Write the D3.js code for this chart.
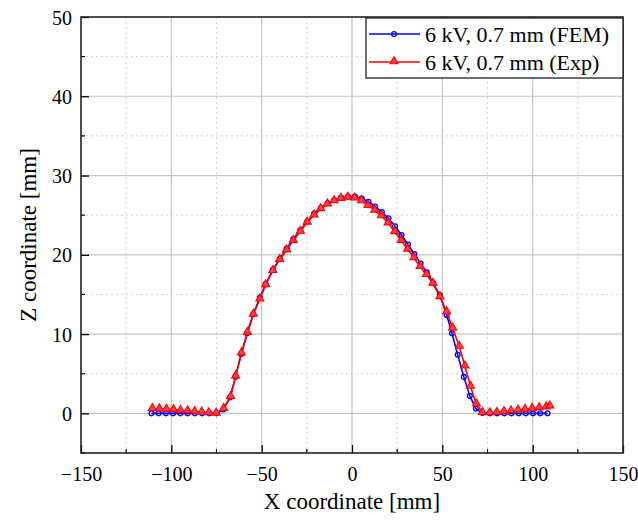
<!DOCTYPE html>
<html>
<head>
<meta charset="utf-8">
<script src="https://cdn.jsdelivr.net/npm/d3@7"></script>
<style>
  body { margin: 0; background: #fff; }
  svg text { font-family: "Liberation Serif", "DejaVu Serif", serif !important; fill: #000; }
</style>
</head>
<body>
<svg id="chart" width="638" height="523" font-family="Liberation Serif"></svg>
<script>
// FEM profile (blue circles)
var femX = [-111, -107, -103, -99, -95, -91, -87, -83, -79, -75,
    -71.2, -67.5, -64.5, -61.3, -58, -54.7, -51, -47.8, -43.8, -40,
    -36.2, -32.5, -28.6, -24.8, -20.9, -17.2, -13.5, -9.8, -6, -2.2,
    1.6, 5.4, 9.1, 12.8, 16.5, 20.2, 23.8, 27.4, 31, 34.5,
    38, 41.4, 45, 48.7, 52.4, 55.3, 58.5, 61.9, 65.2, 68.6,
    72.2, 76.3, 80.3, 84.3, 88.3, 92.3, 96.2, 100.2, 104.2, 108.2];
var femZ = [0, 0, 0, 0, 0, 0, 0, 0, 0, 0,
    0.5, 2.0, 4.6, 7.5, 10.1, 12.5, 14.6, 16.3, 18.1, 19.5,
    20.8, 22.0, 23.1, 24.2, 25.2, 25.9, 26.5, 26.9, 27.2, 27.35,
    27.35, 27.1, 26.7, 26.1, 25.4, 24.6, 23.6, 22.5, 21.3, 20.1,
    18.9, 17.8, 16.4, 14.9, 12.4, 10.1, 7.4, 4.6, 2.2, 0.6,
    0.05, 0, 0, 0, 0, 0, 0, 0, 0, 0];

// measured profile (red triangles)
var expX = [-110.5, -106.6, -102.7, -98.8, -94.9, -91, -87.1, -83.2, -79.3, -75.2,
    -71, -67.2, -64.4, -61.2, -57.9, -54.6, -51, -47.8, -43.8, -40,
    -36.2, -32.5, -28.6, -24.8, -21, -17.3, -13.6, -9.9, -6.1, -2.3,
    1.5, 5.2, 8.9, 12.6, 16.3, 20, 23.6, 27.2, 30.8, 34.3,
    37.7, 41.2, 44.8, 48.7, 52.4, 55.7, 59.4, 62.5, 65.6, 68.9,
    72.2, 76.3, 80.2, 84.1, 88, 91.9, 95.8, 99.7, 103.6, 107.5, 109.5];
var expZ = [0.6, 0.55, 0.5, 0.45, 0.35, 0.3, 0.2, 0.15, 0.05, 0,
    0.6, 2.1, 4.7, 7.6, 10.2, 12.5, 14.4, 16.2, 18.0, 19.4,
    20.6, 21.8, 22.95, 24.1, 25.0, 25.8, 26.4, 26.8, 27.1, 27.25,
    27.15, 26.8, 26.2, 25.6, 24.9, 24.0, 22.9, 21.8, 20.7, 19.6,
    18.5, 17.5, 16.4, 14.7, 12.8, 10.75, 8.45, 5.95, 3.4, 1.16,
    0.1, 0.05, 0.1, 0.2, 0.3, 0.4, 0.5, 0.6, 0.7, 0.8, 0.9];

var seriesNames = ["6 kV, 0.7 mm (FEM)", "6 kV, 0.7 mm (Exp)"];
var xTicks = [-150, -100, -50, 0, 50, 100, 150];
var xMinor = [-125, -75, -25, 25, 75, 125];
var yTicks = [0, 10, 20, 30, 40, 50];
var yMinor = [-5, 5, 15, 25, 35, 45];

var serif = "'Liberation Serif', 'Times New Roman', serif";
var svg = d3.select("#chart");
var plotL = 81, plotR = 623, plotT = 17, plotB = 453;

var xScale = d3.scaleLinear().domain([-150, 150]).range([plotL, plotR]);
var yScale = d3.scaleLinear().domain([-5, 50]).range([plotB, plotT]);

// grid
var grid = svg.append("g");
grid.selectAll(".vmaj").data(xTicks.slice(1, -1)).enter().append("line")
    .attr("x1", d => xScale(d)).attr("x2", d => xScale(d))
    .attr("y1", plotT).attr("y2", plotB)
    .attr("stroke", "#c4c4c4").attr("stroke-width", 1.2);
grid.selectAll(".vmin").data(xMinor).enter().append("line")
    .attr("x1", d => xScale(d)).attr("x2", d => xScale(d))
    .attr("y1", plotT).attr("y2", plotB)
    .attr("stroke", "#d4d4d4").attr("stroke-width", 1).attr("stroke-dasharray", "2,3");
grid.selectAll(".hmaj").data(yTicks.slice(0, -1)).enter().append("line")
    .attr("x1", plotL).attr("x2", plotR)
    .attr("y1", d => yScale(d)).attr("y2", d => yScale(d))
    .attr("stroke", "#c4c4c4").attr("stroke-width", 1.2);
grid.selectAll(".hmin").data(yMinor.slice(1)).enter().append("line")
    .attr("x1", plotL).attr("x2", plotR)
    .attr("y1", d => yScale(d)).attr("y2", d => yScale(d))
    .attr("stroke", "#d4d4d4").attr("stroke-width", 1).attr("stroke-dasharray", "2,3");

// axes, ticks pointing inward
var xAxis = d3.axisBottom(xScale).tickValues(xTicks).tickSizeInner(-8).tickSizeOuter(0)
    .tickFormat(d => d < 0 ? "\u2212" + Math.abs(d) : d);
var yAxis = d3.axisLeft(yScale).tickValues(yTicks).tickSizeInner(-8).tickSizeOuter(0);

var gx = svg.append("g").attr("transform", "translate(0," + plotB + ")").call(xAxis);
var gy = svg.append("g").attr("transform", "translate(" + plotL + ",0)").call(yAxis);
[gx, gy].forEach(function(g) {
    g.attr("font-family", serif).attr("font-size", 20);
    g.select(".domain").remove();
    g.selectAll("line").attr("stroke", "#000").attr("stroke-width", 1.3);
    g.selectAll("text").attr("font-family", serif).attr("font-size", 20).attr("fill", "#000");
});
gx.selectAll("text").attr("y", 9).attr("dy", "0.95em");
gy.selectAll("text").attr("x", -9).attr("dy", "0.35em");

svg.append("g").selectAll("line").data(xMinor).enter().append("line")
    .attr("x1", d => xScale(d)).attr("x2", d => xScale(d))
    .attr("y1", plotB).attr("y2", plotB - 4)
    .attr("stroke", "#000").attr("stroke-width", 1.2);
svg.append("g").selectAll("line").data(yMinor).enter().append("line")
    .attr("x1", plotL).attr("x2", plotL + 4)
    .attr("y1", d => yScale(d)).attr("y2", d => yScale(d))
    .attr("stroke", "#000").attr("stroke-width", 1.2);

// frame
svg.append("rect")
    .attr("x", plotL).attr("y", plotT)
    .attr("width", plotR - plotL).attr("height", plotB - plotT)
    .attr("fill", "none").attr("stroke", "#222").attr("stroke-width", 1.6);

// titles
svg.append("text")
    .attr("x", (plotL + plotR) / 2).attr("y", 509)
    .attr("text-anchor", "middle").attr("font-size", 23).attr("font-family", serif)
    .text("X coordinate [mm]");
svg.append("text")
    .attr("transform", "translate(36," + (plotT + plotB) / 2 + ") rotate(-90)")
    .attr("text-anchor", "middle").attr("font-size", 23).attr("font-family", serif)
    .text("Z coordinate [mm]");

// series
var line = d3.line()
    .x(function(d) { return xScale(d.x); })
    .y(function(d) { return yScale(d.y); });

var femData = femX.map((x, i) => ({ x: x, y: femZ[i] }));
var expData = expX.map((x, i) => ({ x: x, y: expZ[i] }));
var tri = d3.symbol().type(d3.symbolTriangle).size(28);

var gFem = svg.append("g");
gFem.append("path").datum(femData)
    .attr("fill", "none").attr("stroke", "#0000ff").attr("stroke-width", 1.6).attr("d", line);
gFem.selectAll("circle").data(femData).enter().append("circle")
    .attr("cx", d => xScale(d.x)).attr("cy", d => yScale(d.y)).attr("r", 2.4)
    .attr("fill", "none").attr("stroke", "#0000ff").attr("stroke-width", 1.3);

var gExp = svg.append("g");
gExp.append("path").datum(expData)
    .attr("fill", "none").attr("stroke", "#ff0000").attr("stroke-width", 1.6).attr("d", line);
gExp.selectAll("path.m").data(expData).enter().append("path")
    .attr("class", "m")
    .attr("d", tri)
    .attr("transform", d => "translate(" + xScale(d.x) + "," + (yScale(d.y) - 0.5) + ")")
    .attr("fill", "#ff4040").attr("stroke", "#ff0000").attr("stroke-width", 1.1);

// legend
var legend = svg.append("g");
legend.append("rect")
    .attr("x", 366).attr("y", plotT + 1)
    .attr("width", plotR - 366).attr("height", 60)
    .attr("fill", "#fff").attr("stroke", "#222").attr("stroke-width", 1.3);
var colors = ["#0000ff", "#ff0000"];
var items = legend.selectAll(".item").data(seriesNames).enter().append("g")
    .attr("transform", (d, i) => "translate(0," + (34 + i * 28) + ")");
items.append("line")
    .attr("x1", 369).attr("x2", 420).attr("y1", 0).attr("y2", 0)
    .attr("stroke", (d, i) => colors[i]).attr("stroke-width", 1.6);
items.filter((d, i) => i === 0).append("circle")
    .attr("cx", 394).attr("cy", 0).attr("r", 2.4)
    .attr("fill", "none").attr("stroke", "#0000ff").attr("stroke-width", 1.3);
items.filter((d, i) => i === 1).append("path")
    .attr("d", tri).attr("transform", "translate(394,-0.5)")
    .attr("fill", "#ff4040").attr("stroke", "#ff0000").attr("stroke-width", 1.1);
items.append("text")
    .attr("x", 425).attr("y", 0).attr("dy", "0.35em")
    .attr("font-size", 22).attr("font-family", serif)
    .text(d => d);
</script>
</body>
</html>
